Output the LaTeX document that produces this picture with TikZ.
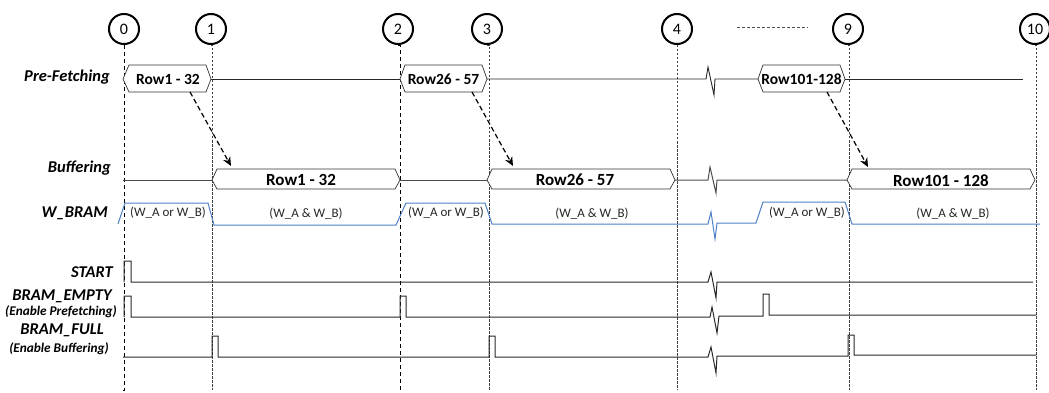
\documentclass[tikz,border=0pt]{standalone}
\usepackage{fontspec}
\setmainfont{Carlito}
\usetikzlibrary{arrows.meta}
\definecolor{wblue}{RGB}{79,129,199}
\definecolor{sig}{RGB}{40,40,40}
\tikzset{
  num/.style={circle,draw=black,line width=2pt,minimum size=30pt,inner sep=0pt,font=\fontsize{16}{16}\selectfont},
  vlineA/.style={draw=black,dashed,line width=0.8pt,dash pattern=on 4pt off 3pt},
  vlineB/.style={draw=black!75,line width=0.8pt,dash pattern=on 2.5pt off 1.5pt},
  lab/.style={anchor=east,font=\fontsize{16.5}{16.5}\selectfont\bfseries\itshape,inner sep=0pt},
  clab/.style={anchor=center,font=\fontsize{16.5}{16.5}\selectfont\bfseries\itshape,inner sep=0pt},
  sublab/.style={anchor=center,font=\fontsize{13.3}{13.3}\selectfont\bfseries\itshape,inner sep=0pt},
  hexbox/.style={draw=black!80,line width=0.7pt,fill=white},
  sigline/.style={draw=sig,line width=1pt},
  wline/.style={draw=wblue,line width=1pt},
  boxtxt/.style={font=\fontsize{15.5}{15.5}\selectfont\bfseries,inner sep=0pt},
  bigtxt/.style={font=\fontsize{17}{17}\selectfont\bfseries,inner sep=0pt},
  wtxt/.style={font=\fontsize{13}{13}\selectfont,text=black!85,inner sep=0pt},
  flow/.style={draw=black,line width=1.2pt,dash pattern=on 5pt off 3pt,-{Stealth[length=9pt,width=8pt]}},
}
\begin{document}
\begin{tikzpicture}[x=1pt,y=-1pt]
\useasboundingbox (0,0) rectangle (1049,393);
% time markers
\node[num] (t0) at (124,29) {0};
\node[num] (t1) at (211,29) {1};
\node[num] (t2) at (398,29) {2};
\node[num] (t3) at (487,29) {3};
\node[num] (t4) at (677,29) {4};
\node[num] (t9) at (848,29) {9};
\node[num] (t10) at (1035,29) {10};
\coordinate (d0) at (737,27);
\coordinate (d1) at (808,27);
\draw[black!70,line width=0.8pt,dash pattern=on 3pt off 2pt] (d0) -- (d1);
% vertical time lines
\coordinate (b0) at (123,390);
\coordinate (b1) at (212,390);
\coordinate (b2) at (400,390);
\coordinate (b3) at (489,390);
\coordinate (b4) at (677,390);
\coordinate (b9) at (849,390);
\coordinate (b10) at (1036,390);
\draw[vlineA] (t0.south) |- (b0);
\draw[vlineB] (t1.south) -| (b1);
\draw[vlineA] (t2.south) -| (b2);
\draw[vlineB] (t3.south) -| (b3);
\draw[vlineB] (t4.south) -- (b4);
\draw[vlineB] (t9.south) -| (b9);
\draw[vlineB] (t10.south) -| (b10);
% labels
\node[lab] (lpf) at (110,77) {Pre-Fetching};
\node[lab] (lbuf) at (111,168) {Buffering};
\node[lab] (lw) at (108,213) {W\_BRAM};
\node[lab] (lst) at (113,272) {START};
\node[clab] (lbe) at (62,296) {BRAM\_EMPTY};
\node[sublab] (lbe2) at (61,312) {(Enable Prefetching)};
\node[clab] (lbf) at (62,330) {BRAM\_FULL};
\node[sublab] (lbf2) at (59,349) {(Enable Buffering)};
% Pre-fetching line
\draw[sigline,line width=0.9pt] (211,79) -- (400,79);
\draw[sigline,line width=0.9pt] (487,79) -- (706,79) -- (708,67) -- (714,95) -- (715,79) -- (758,79);
\draw[sigline,line width=0.9pt] (845,79) -- (1023,79);
\draw[hexbox] (123,79) -- (129,65) -- (206,65) -- (211,79) -- (206,92) -- (129,92) -- cycle;
\node[boxtxt] (p1) at (168,79) {Row1 - 32};
\draw[hexbox] (400,79) -- (405,65) -- (482,65) -- (487,79) -- (482,92) -- (405,92) -- cycle;
\node[boxtxt] (p2) at (443.5,79) {Row26 - 57};
\draw[hexbox] (758,79) -- (763,65) -- (840,65) -- (845,79) -- (840,92) -- (763,92) -- cycle;
\node[boxtxt] (p3) at (801.5,79) {Row101-128};
% Buffering line
\draw[sigline,draw=black!70,line width=1pt] (123,180) -- (212,180);
\draw[sigline,draw=black!70,line width=1pt] (400,180) -- (487,180);
\draw[sigline,draw=black!70,line width=1pt] (675,180) -- (708,180) -- (710,167) -- (716,193) -- (717,180) -- (847,180);
\draw[hexbox] (212,180) -- (217,169) -- (395,169) -- (400,180) -- (395,189) -- (217,189) -- cycle;
\node[bigtxt] (q1) at (301,180) {Row1 - 32};
\draw[hexbox] (487,180) -- (492,169) -- (670,169) -- (675,180) -- (670,189) -- (492,189) -- cycle;
\node[bigtxt] (q2) at (575,180) {Row26 - 57};
\draw[hexbox] (847,180) -- (852,169) -- (1030,169) -- (1035,180) -- (1030,189) -- (852,189) -- cycle;
\node[bigtxt] (q3) at (941,181) {Row101 - 128};
% W_BRAM
\draw[wline] (118,224) -- (125,203) -- (208,203) -- (214,225) -- (396,225) -- (406,203) -- (485,203) -- (492,224) -- (708,224) -- (711,212) -- (715,239) -- (717,223) -- (756,223) -- (763,202) -- (845,202) -- (852,224) -- (1040,224);
\node[wtxt] (w1) at (168,213) {(W\_A or W\_B)};
\node[wtxt] (w2) at (306,214) {(W\_A \& W\_B)};
\node[wtxt] (w3) at (446,213) {(W\_A or W\_B)};
\node[wtxt] (w4) at (592,214) {(W\_A \& W\_B)};
\node[wtxt] (w5) at (807,213) {(W\_A or W\_B)};
\node[wtxt] (w6) at (953,214) {(W\_A \& W\_B)};
% START
\draw[sigline] (124,282) -- (124,261) -- (131,261) -- (131,282) -- (708,282) -- (711,272) -- (716,298) -- (717,282) -- (1033,282);
% BRAM_EMPTY
\draw[sigline] (124,317) -- (124,296) -- (131,296) -- (131,317) -- (400,317) -- (400,296) -- (406,296) -- (406,317) -- (710,317) -- (712,307) -- (717,333) -- (719,316) -- (763,316) -- (763,294) -- (769,294) -- (769,315) -- (1036,315);
% BRAM_FULL
\draw[sigline] (123,357) -- (212,357) -- (212,336) -- (218,336) -- (218,357) -- (489,357) -- (489,336) -- (495,336) -- (495,357) -- (708,357) -- (711,347) -- (716,373) -- (717,356) -- (848,356) -- (848,335) -- (854,335) -- (854,355) -- (1036,355);
% flow arrows
\coordinate (a1s) at (190,92);
\coordinate (a1e) at (231,166);
\coordinate (a2s) at (472,92);
\coordinate (a2e) at (513,166);
\coordinate (a3s) at (827,92);
\coordinate (a3e) at (868,167);
\draw[flow] (a1s) -- (a1e);
\draw[flow] (a2s) -- (a2e);
\draw[flow] (a3s) -- (a3e);
\end{tikzpicture}
\end{document}
